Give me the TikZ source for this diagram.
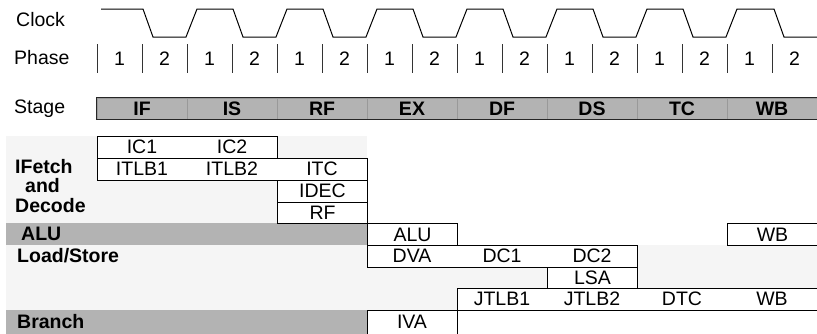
\documentclass[tikz,border=0pt]{standalone}
\usepackage{fontspec}
\setmainfont{Liberation Sans}
\usetikzlibrary{positioning}
\definecolor{bandgray}{HTML}{B3B3B3}
\definecolor{panelgray}{HTML}{F5F5F5}

\begin{document}
\begin{tikzpicture}[
    x=1pt, y=-1pt,
    font=\fontsize{19.5}{21}\selectfont,
    box/.style={rectangle, draw, line width=1pt, fill=white, inner sep=0pt, anchor=north west},
    cell/.style={inner sep=0pt},
    stagecell/.style={rectangle, draw=black!40, line width=0.6pt, fill=bandgray, minimum width=90, minimum height=21, inner sep=0pt, font=\fontsize{19.5}{21}\selectfont\bfseries},
    rowlabel/.style={anchor=west, inner sep=0pt, font=\fontsize{19.5}{19.5}\selectfont\bfseries},
    toplabel/.style={anchor=west, inner sep=0pt},
    wave/.style={line width=1pt},
    phasetick/.style={draw=black!80, line width=1pt}
]
\useasboundingbox (0,0) rectangle (817,333);

% TIMING ROWS
\node[toplabel] (clk) at (16,20) {Clock};
\node[toplabel] (phs) at (14,57.5) {Phase};
\node[toplabel] (stg) at (14,108.5) {Stage};

\draw[wave] (101,9)
    \foreach \k in {0,...,6} {
        -- ({143+90*\k},9) -- ({153+90*\k},37) -- ({186+90*\k},37) -- ({197+90*\k},9)
    }
    -- (774,9) -- (784,37) -- (817,37);

\foreach \k in {0,...,16}
    \draw[phasetick] ({97+45*\k},44) -- ({97+45*\k},73);
\foreach \k [evaluate=\k as \p using {int(mod(\k,2)+1)}] in {0,...,15}
    \node[cell] (ph\k) at ({119.5+45*\k},58.5) {\p};

% STAGE BAR
\foreach \s [count=\i from 0] in {IF,IS,RF,EX,DF,DS,TC,WB}
    \node[stagecell] (st\s) at ({142+90*\i},108.5) {\s};
\draw[line width=1pt, black!85] (stIF.north west) rectangle (stWB.south east);

% BACKGROUND BANDS
\fill[panelgray] (6,136) rectangle (367,223);
\fill[bandgray] (6,223) rectangle (367,245);
\fill[panelgray] (6,245) rectangle (817,310);
\fill[bandgray] (6,310) rectangle (367,334);

% IFETCH AND DECODE
\node[rowlabel, align=left] (ifd) at (15,186) {IFetch\\\hspace*{10pt}and\\Decode};
\node[box, minimum width=180, minimum height=21.5] (icbox) at (97,136) {};
\node[cell] (ic1) at (142,146.75) {IC1};
\node[cell] (ic2) at (232,146.75) {IC2};
\node[box, minimum width=270, minimum height=22] (itlbbox) at (97,157.5) {};
\node[cell] (itlb1) at (142,168.5) {ITLB1};
\node[cell] (itlb2) at (232,168.5) {ITLB2};
\node[cell] (itc) at (322,168.5) {ITC};
\node[box, minimum width=90, minimum height=22] (idec) at (277,179.5) {};
\node[cell] at (idec.center) {IDEC};
\node[box, minimum width=90, minimum height=21.5] (rf) at (277,201.5) {};
\node[cell] at (rf.center) {RF};

% ALU
\node[rowlabel] (alulbl) at (21,234) {ALU};
\node[box, minimum width=90, minimum height=22] (alu) at (367,223) {};
\node[cell] at (alu.center) {ALU};
\node[box, minimum width=90, minimum height=22] (wbalu) at (727,223) {};
\node[cell] at (wbalu.center) {WB};

% LOAD/STORE
\node[rowlabel] (lslbl) at (17,256) {Load/Store};
\node[box, minimum width=270, minimum height=21.5] (dvabox) at (367,245) {};
\node[cell] (dva) at (412,255.75) {DVA};
\node[cell] (dc1) at (502,255.75) {DC1};
\node[cell] (dc2) at (592,255.75) {DC2};
\node[box, minimum width=90, minimum height=21.5] (lsa) at (547,266.5) {};
\node[cell] at (lsa.center) {LSA};
\node[box, minimum width=360, minimum height=22] (jtlbbox) at (457,288) {};
\node[cell] (jtlb1) at (502,299) {JTLB1};
\node[cell] (jtlb2) at (592,299) {JTLB2};
\node[cell] (dtc) at (682,299) {DTC};
\node[cell] (wbls) at (772,299) {WB};

% BRANCH
\node[rowlabel] (brlbl) at (17,321.5) {Branch};
\node[box, minimum width=90, minimum height=26] (iva) at (367,310) {};
\node[cell] at (412,321.5) {IVA};

\end{tikzpicture}
\end{document}
